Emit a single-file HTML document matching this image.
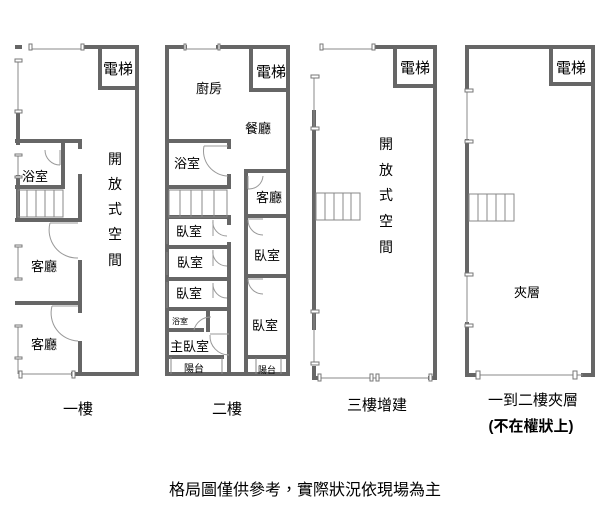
<!DOCTYPE html>
<html><head><meta charset="utf-8"><style>
html,body{margin:0;padding:0;background:#fff;}
svg{display:block}
text{font-family:"Liberation Sans","Noto Sans CJK TC",sans-serif;fill:#000}
</style></head><body>
<svg width="616" height="525" viewBox="0 0 616 525" xmlns="http://www.w3.org/2000/svg">
<g stroke="#666" stroke-width="4" fill="none" stroke-linecap="square">
<path d="M83 47 H137 V374 H73"/>
<path d="M17 47 H20 M18 112 V143 M18 177 V220"/>
<rect x="100" y="47" width="37" height="41"/>
<path d="M17 141 H80 V147 M80 176 V220 H17 M63 143 V187 H17"/>
<path d="M80 262 V303 H17 M80 303 V311 M80 343 V374"/>
<path d="M167 47 H185 M218 47 H288 V374 H167 V47"/>
<rect x="251" y="47" width="37" height="43"/>
<path d="M167 141 H229 V147 M229 176 V187 H167"/>
<path d="M167 217 H229 V223 M229 244 V374 M167 247 H229 M167 279 H229 M167 309 H229"/>
<path d="M167 330 H202 M208 311 V330 M167 357 H222"/>
<path d="M246 171 V374 M246 171 H288 M246 216 H288 M246 276 H288 M246 357 H288"/>
<path d="M377 47 H435 V378 H430 M314 112 V328 M314 368 V378 H318"/>
<rect x="395" y="47" width="40" height="39"/>
<path d="M467 47 H593 V375 H583 M467 47 V90 M467 141 V273 M467 324 V375 H477"/>
<rect x="551" y="47" width="42" height="37"/>
</g>
<g stroke="#888" stroke-width="1" fill="none">
<path d="M31 49 H83 M18 60 V112 M18 155 V177 M18 245 V280 M18 325 V374 M20 374 H73"/>
<path d="M185 49 H218 M167 220 V244 M167 252 V275 M167 282 V308 M171 357 V374 M222 357 V374 M256 358 V374 M281 358 V374"/>
<path d="M322 49 H374 M314 76 V129 M314 311 V363 M318 378 H430"/>
<path d="M467 90 V141 M467 273 V325 M477 375 H583"/>
</g>
<g fill="#fff" stroke="#777" stroke-width="1">
<rect x="29" y="44" width="3" height="6"/><rect x="81" y="44" width="3" height="6"/>
<rect x="15" y="59" width="7" height="3"/><rect x="15" y="110" width="7" height="3"/>
<rect x="15" y="154" width="7" height="2"/><rect x="15" y="176" width="7" height="2"/>
<rect x="15" y="245" width="7" height="2"/><rect x="15" y="278" width="7" height="2"/>
<rect x="15" y="325" width="7" height="2"/><rect x="15" y="357" width="7" height="2"/>
<rect x="19" y="371" width="3" height="7"/><rect x="72" y="371" width="3" height="7"/>
<rect x="184" y="44" width="2" height="6"/><rect x="218" y="44" width="2" height="6"/>
<rect x="320" y="44" width="3" height="6"/><rect x="372" y="44" width="3" height="6"/>
<rect x="311" y="75" width="8" height="3"/><rect x="311" y="127" width="8" height="3"/>
<rect x="311" y="310" width="8" height="3"/><rect x="311" y="362" width="8" height="3"/>
<rect x="318" y="374" width="3" height="7"/><rect x="370" y="374" width="3" height="7"/><rect x="376" y="374" width="3" height="7"/><rect x="429" y="374" width="3" height="7"/>
<rect x="465" y="89" width="8" height="3"/><rect x="465" y="140" width="8" height="3"/>
<rect x="465" y="273" width="8" height="3"/><rect x="465" y="324" width="8" height="3"/>
<rect x="476" y="371" width="4" height="8"/><rect x="573" y="371" width="4" height="8"/>
</g>
<g stroke="#888" stroke-width="1" fill="none">
<rect x="18" y="190" width="45" height="27"/><path d="M27 190V217 M36 190V217 M45 190V217 M54 190V217"/>
<rect x="169" y="190" width="58" height="27"/><path d="M180 190V217 M191 190V217 M202 190V217 M214 190V217"/>
<rect x="316" y="193" width="44" height="27"/><path d="M325 193V220 M334 193V220 M343 193V220 M351 193V220"/>
<rect x="469" y="194" width="45" height="27"/><path d="M478 194V221 M487 194V221 M496 194V221 M505 194V221"/>
</g>
<g stroke="#999" stroke-width="1" fill="none">
<path d="M45 150 A15 15 0 0 0 60 165 M60 150 V165"/>
<path d="M50 223 A28 28 0 0 0 78 258 M50 223 H78"/>
<path d="M52 306 A28 28 0 0 0 78 341 M52 306 H78"/>
<path d="M204 146 A25 25 0 0 0 228 176 M204 146 H228"/>
<path d="M213 220 A14 14 0 0 0 227 236 M213 220 V236"/>
<path d="M213 250 A14 14 0 0 0 227 266 M213 250 V266"/>
<path d="M213 283 A14 14 0 0 0 227 298 M213 283 V298"/>
<path d="M248 176 V189 M248 189 A14 14 0 0 0 263 176"/>
<path d="M248 220 A15 15 0 0 0 263 235 M248 219 H263"/>
<path d="M248 279 A15 15 0 0 0 263 294 M248 279 H263"/>
<path d="M211 317 A17 17 0 0 0 194 330"/>
<path d="M210 335 A19 19 0 0 0 229 355 M210 334 H229"/>
</g>
<g font-size="15">
<text x="103" y="74">電梯</text>
<text x="256" y="77">電梯</text>
<text x="400" y="73">電梯</text>
<text x="556" y="73">電梯</text>
</g>
<g font-size="13">
<text x="22" y="181">浴室</text>
<text x="31" y="271">客廳</text>
<text x="31" y="349">客廳</text>
<text x="196" y="93">廚房</text>
<text x="245" y="133">餐廳</text>
<text x="174" y="168">浴室</text>
<text x="256" y="202">客廳</text>
<text x="176" y="236">臥室</text>
<text x="177" y="267">臥室</text>
<text x="176" y="298">臥室</text>
<text x="254" y="260">臥室</text>
<text x="252" y="330">臥室</text>
<text x="170" y="351">主臥室</text>
<text x="514" y="297">夾層</text>
</g>
<text x="172" y="324" font-size="8">浴室</text>
<text x="184" y="372" font-size="10">陽台</text>
<text x="258" y="373" font-size="9">陽台</text>
<g font-size="14" text-anchor="middle">
<text x="115" y="164">開</text><text x="115" y="189">放</text><text x="115" y="214">式</text><text x="115" y="239">空</text><text x="115" y="265">間</text>
<text x="386" y="149">開</text><text x="386" y="175">放</text><text x="386" y="200">式</text><text x="386" y="226">空</text><text x="386" y="252">間</text>
</g>
<g font-size="15" text-anchor="middle">
<text x="78" y="414">一樓</text>
<text x="227" y="414">二樓</text>
<text x="377" y="410">三樓增建</text>
<text x="533" y="405">一到二樓夾層</text>
<text x="531" y="431" font-weight="bold">(不在權狀上)</text>
<text x="305" y="495" font-size="16">格局圖僅供參考，實際狀況依現場為主</text>
</g>
</svg>
</body></html>
